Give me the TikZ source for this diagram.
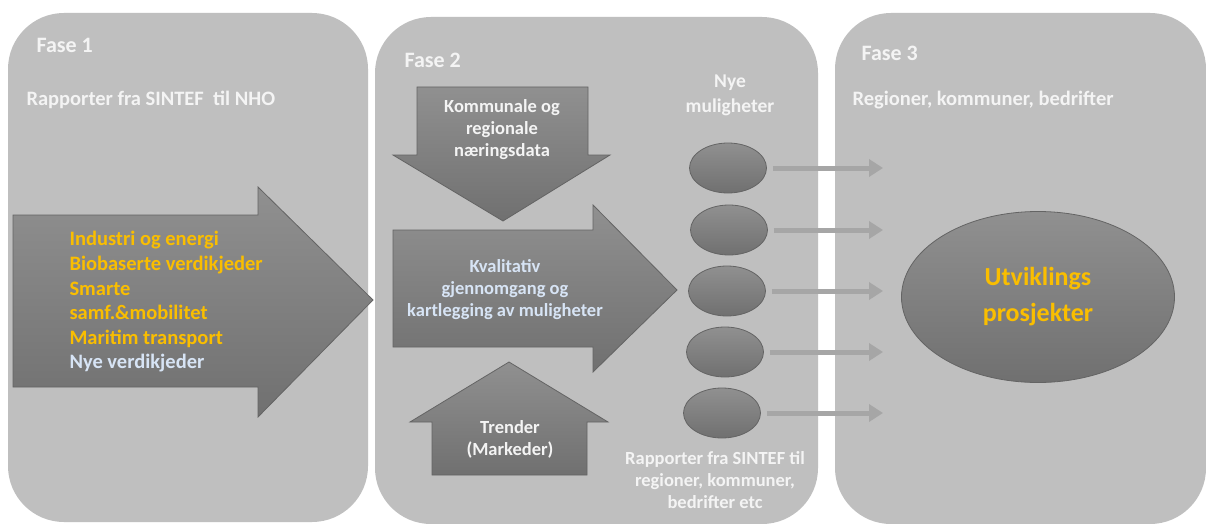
\documentclass[tikz,border=0pt]{standalone}
\usepackage{fontspec}
\setmainfont{Carlito}
\usetikzlibrary{shapes.geometric,arrows.meta}
\definecolor{panelgray}{RGB}{191,191,191}
\definecolor{shadelight}{RGB}{144,144,144}
\definecolor{shadedark}{RGB}{112,112,112}
\definecolor{edgegray}{RGB}{100,100,100}
\definecolor{linkgray}{RGB}{166,166,166}
\definecolor{gold}{RGB}{250,190,0}
\definecolor{paleblue}{RGB}{215,228,245}
\definecolor{paper}{RGB}{244,244,244}
\begin{document}
\begin{tikzpicture}[x=1pt,y=-1pt,
	panel/.style={fill=panelgray,rounded corners=56pt},
	blockarrow/.style={top color=shadelight,bottom color=shadedark,draw=edgegray,line width=0.8pt},
	heading/.style={anchor=west,text=paper,font=\bfseries\fontsize{22}{26}\selectfont},
	sub/.style={anchor=west,text=paper,font=\bfseries\fontsize{20.5}{25}\selectfont},
	label/.style={align=center,text=paper,font=\bfseries\fontsize{18.5}{22}\selectfont},
	opp/.style={ellipse,minimum width=77pt,minimum height=50pt,inner sep=0pt,top color=shadelight,bottom color=shadedark,draw=edgegray,line width=0.8pt},
	bigopp/.style={ellipse,minimum width=273pt,minimum height=171pt,inner sep=0pt,top color=shadelight,bottom color=shadedark,draw=edgegray,line width=0.8pt,align=center,text=gold,font=\bfseries\fontsize{26}{36}\selectfont},
	link/.style={draw=linkgray,line width=5pt,shorten <=6pt,-{Triangle[length=14pt,width=17pt]}}]
		\fill[white] (0,0) rectangle (1206,524);
		\useasboundingbox (0,0) rectangle (1206,524);
		\fill[panel] (8,13) rectangle (368,522);
		\fill[panel] (375,17) rectangle (818,524);
		\fill[panel] (835,13) rectangle (1206,524);
		\node[heading] (f1) at (33,45) {Fase 1};
		\node[heading] (f2) at (401,60) {Fase 2};
		\node[heading] (f3) at (858,53) {Fase 3};
		\node[sub] (nho) at (23,100) {Rapporter fra SINTEF\ \ til NHO};
		\node[sub] (reg) at (849,100) {Regioner, kommuner, bedrifter};
		\draw[blockarrow] (13,215) -- (258,215) -- (258,187) -- (373,300) -- (258,417) -- (258,387) -- (13,387) -- cycle;
		\node[anchor=west,align=left,text=gold,font=\bfseries\fontsize{20.5}{24.6}\selectfont] (themes) at (66,302) {Industri og energi\\Biobaserte verdikjeder\\Smarte\\samf.\&mobilitet\\Maritim transport\\\textcolor{paleblue}{Nye verdikjeder}};
		\draw[blockarrow] (417,87) -- (588,87) -- (588,155) -- (610,155) -- (503,221) -- (393,155) -- (417,155) -- cycle;
		\node[label] (data) at (502,130) {Kommunale og\\regionale\\næringsdata};
		\draw[blockarrow] (393,230) -- (593,230) -- (593,205) -- (677,290) -- (593,372) -- (593,347) -- (393,347) -- cycle;
		\node[label,text=paleblue] (kval) at (505,290) {Kvalitativ\\gjennomgang og\\kartlegging av muligheter};
		\draw[blockarrow] (432,475) -- (587,475) -- (587,422) -- (608,422) -- (509,362) -- (410,422) -- (432,422) -- cycle;
		\node[label] (trend) at (510,439) {Trender\\(Markeder)};
		\node[label,font=\bfseries\fontsize{19.5}{25}\selectfont] (nye) at (730,95) {Nye\\muligheter};
		\node[label] (rap) at (715,480) {Rapporter fra SINTEF til\\regioner, kommuner,\\bedrifter etc};
		\coordinate (tip) at (883,0);
		\foreach \i/\x/\y in {1/728/168, 2/729/230, 3/727/291, 4/725/352, 5/722/413}{
			\node[opp] (o\i) at (\x,\y) {};
			\draw[link] (o\i) -- (o\i -| tip);
		}
		\node[bigopp] (dev) at (1038,297) {Utviklings\\prosjekter};
\end{tikzpicture}
\end{document}
